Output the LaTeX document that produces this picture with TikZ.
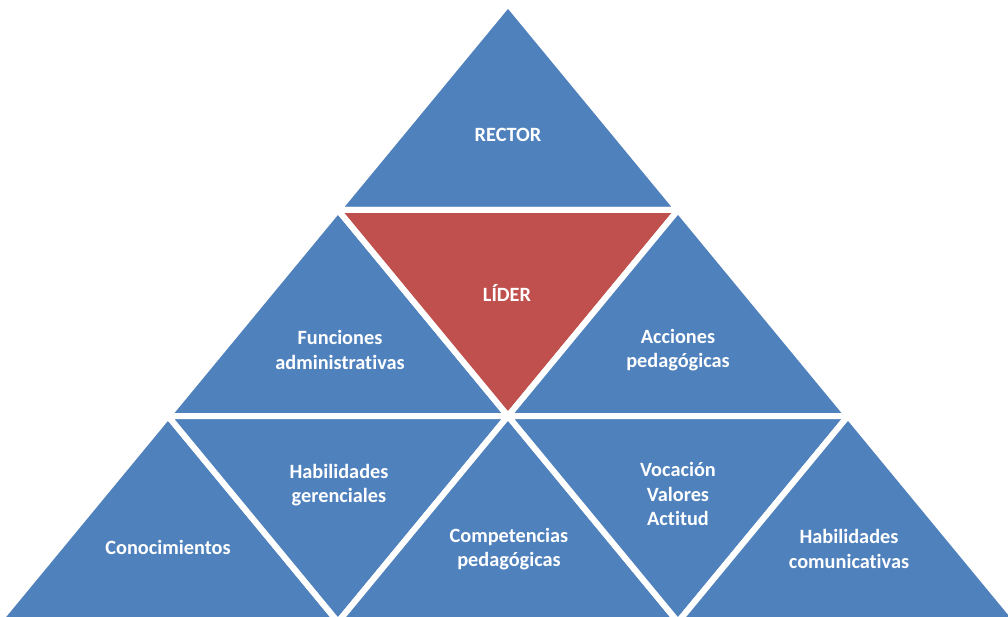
\documentclass[tikz,border=0pt]{standalone}
\usepackage{fontspec}
\setmainfont{Carlito}[Ligatures=NoCommon]
\usepackage{xcolor}
\usepackage{tikz}

\definecolor{pyrblue}{RGB}{79,129,189}
\definecolor{pyrred}{RGB}{192,80,77}

\begin{document}
\begin{tikzpicture}[
  x=1pt, y=-1pt,
  tri/.style={fill=pyrblue, draw=white, line width=6pt, line join=round},
  label/.style={text=white, align=center,
                font=\fontsize{20.3}{24.5}\selectfont\bfseries}
]
  \useasboundingbox (0,0) rectangle (1008,617);
  \clip (0,0) rectangle (1008,617);

  % corners of the grid, row by row
  \coordinate (a)  at (508,4);
  \coordinate (b1) at (338,210);
  \coordinate (b2) at (678,210);
  \coordinate (c1) at (168,416);
  \coordinate (c2) at (508,416);
  \coordinate (c3) at (848,416);
  \coordinate (d1) at (-2,622);
  \coordinate (d2) at (338,622);
  \coordinate (d3) at (678,622);
  \coordinate (d4) at (1018,622);

  % top
  \filldraw[tri] (a) -- (b1) -- (b2) -- cycle;
  % middle row
  \filldraw[tri] (b1) -- (c1) -- (c2) -- cycle;
  \filldraw[tri, fill=pyrred] (b1) -- (b2) -- (c2) -- cycle;
  \filldraw[tri] (b2) -- (c2) -- (c3) -- cycle;
  % bottom row
  \filldraw[tri] (c1) -- (d1) -- (d2) -- cycle;
  \filldraw[tri] (c1) -- (c2) -- (d2) -- cycle;
  \filldraw[tri] (c2) -- (d2) -- (d3) -- cycle;
  \filldraw[tri] (c2) -- (c3) -- (d3) -- cycle;
  \filldraw[tri] (c3) -- (d3) -- (d4) -- cycle;

  \node[label] (rector) at (508,135) {RECTOR};
  \node[label] (lider)  at (507,293) {LÍDER};
  \node[label] (func)   at (340,350) {Funciones\\administrativas};
  \node[label] (acc)    at (678,350) {Acciones\\pedagógicas};
  \node[label] (con)    at (168,547) {Conocimientos};
  \node[label] (hger)   at (339,485) {Habilidades\\gerenciales};
  \node[label] (comp)   at (509,549) {Competencias\\pedagógicas};
  \node[label] (voc)    at (678,494) {Vocación\\Valores\\Actitud};
  \node[label] (hcom)   at (849,549) {Habilidades\\comunicativas};
\end{tikzpicture}
\end{document}
